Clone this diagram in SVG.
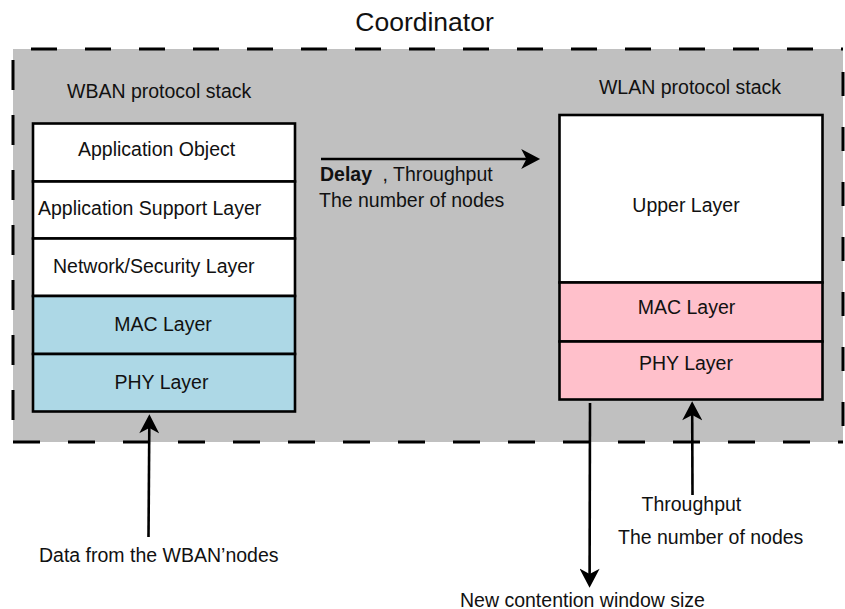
<svg xmlns="http://www.w3.org/2000/svg" width="845" height="609" viewBox="0 0 845 609">
<style>
text{font-family:"Liberation Sans",Arial,sans-serif;font-size:19.5px;fill:#111}
.box{stroke:#000;stroke-width:2.6}
.dash{stroke:#000;stroke-width:3;fill:none}
.conn{stroke:#000;stroke-width:2.6;fill:none;marker-end:url(#arr)}
</style>
<defs>
<marker id="arr" markerUnits="userSpaceOnUse" markerWidth="20" markerHeight="20" viewBox="0 0 18 19" refX="6" refY="9.5" orient="auto">
<path d="M0,0 L18,9.5 L0,19 L5,9.5 z" fill="#000"/>
</marker>
</defs>
<text x="424.5" y="31" text-anchor="middle" style="font-size:26.5px">Coordinator</text>
<g id="coordinator">
<rect x="13" y="49" width="830" height="393" fill="#C0C0C0"/>
<line class="dash" x1="13" y1="49" x2="843" y2="49" stroke-dasharray="26 28" stroke-dashoffset="36"/>
<line class="dash" x1="843" y1="49" x2="843" y2="442" stroke-dasharray="24 31" stroke-dashoffset="32"/>
<line class="dash" x1="13" y1="442" x2="843" y2="442" stroke-dasharray="27 28"/>
<line class="dash" x1="13" y1="49" x2="13" y2="442" stroke-dasharray="30 25" stroke-dashoffset="44"/>
</g>
<g id="wban-stack">
<text x="67" y="98">WBAN protocol stack</text>
<g id="wban-app-object"><rect class="box" x="33" y="123.5" width="262" height="58" fill="#fff"/><text x="78" y="155.5">Application Object</text></g>
<g id="wban-aps"><rect class="box" x="33" y="181.5" width="262" height="57" fill="#fff"/><text x="38" y="215">Application Support Layer</text></g>
<g id="wban-nwk"><rect class="box" x="33" y="238.5" width="262" height="57.5" fill="#fff"/><text x="53" y="272.5">Network/Security Layer</text></g>
<g id="wban-mac"><rect class="box" x="33" y="296" width="262" height="58" fill="#ADD8E6"/><text x="163" y="330.5" text-anchor="middle">MAC Layer</text></g>
<g id="wban-phy"><rect class="box" x="33" y="354" width="262" height="57.5" fill="#ADD8E6"/><text x="161.5" y="389" text-anchor="middle">PHY Layer</text></g>
</g>
<g id="wlan-stack">
<text x="690" y="94" text-anchor="middle">WLAN protocol stack</text>
<g id="wlan-upper"><rect class="box" x="559.5" y="115" width="263" height="167.5" fill="#fff"/><text x="686" y="212" text-anchor="middle">Upper Layer</text></g>
<g id="wlan-mac"><rect class="box" x="559.5" y="282.5" width="263" height="59" fill="#FFC0CB"/><text x="686.5" y="314" text-anchor="middle">MAC Layer</text></g>
<g id="wlan-phy"><rect class="box" x="559.5" y="341.5" width="263" height="58" fill="#FFC0CB"/><text x="686" y="370" text-anchor="middle">PHY Layer</text></g>
</g>
<g id="connectors">
<line class="conn" x1="321" y1="159" x2="527.5" y2="159"/>
<line class="conn" x1="148.5" y1="537" x2="149.3" y2="427"/>
<line class="conn" x1="590" y1="403" x2="589.6" y2="575"/>
<line class="conn" x1="692.5" y1="495" x2="692.2" y2="414"/>
</g>
<g id="labels">
<text x="320" y="180.5"><tspan font-weight="bold">Delay</tspan></text>
<text x="382.5" y="180.5">, Throughput</text>
<text x="319" y="207">The number of nodes</text>
<text x="39" y="561.5">Data from the WBAN’nodes</text>
<text x="641.5" y="510.5">Throughput</text>
<text x="618" y="544">The number of nodes</text>
<text x="460" y="606.5">New contention window size</text>
</g>
</svg>
